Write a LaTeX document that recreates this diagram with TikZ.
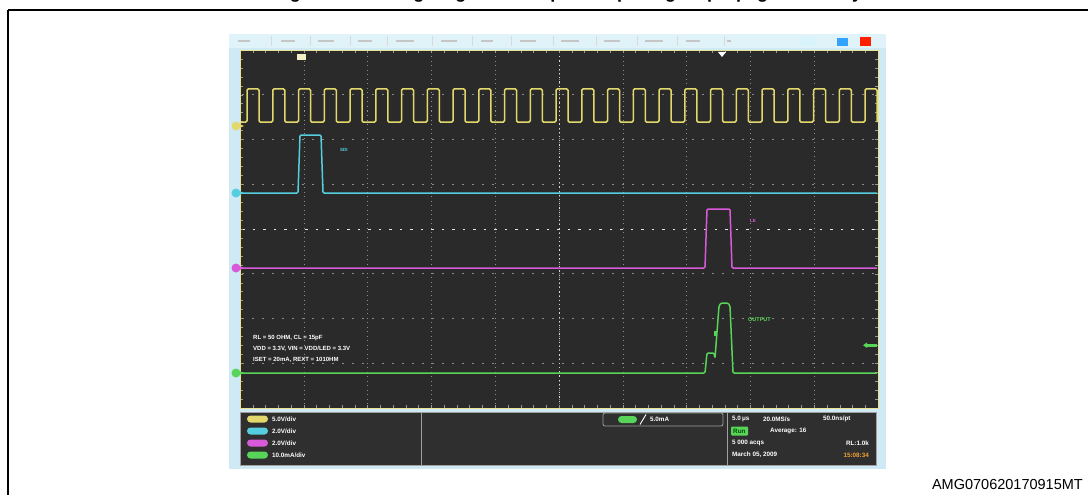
\documentclass[tikz,border=0pt]{standalone}
\usepackage{fontspec}
\setmainfont{Liberation Sans}
\definecolor{scrbg}{HTML}{2A2A2A}
\definecolor{panbg}{HTML}{2F2F2F}
\definecolor{winbl}{HTML}{CFE9F5}
\definecolor{tbar}{HTML}{DFF3F9}
\definecolor{tyel}{HTML}{E2D86C}
\definecolor{tcya}{HTML}{55CFE0}
\definecolor{tmag}{HTML}{D85AD8}
\definecolor{tgrn}{HTML}{58D458}
\definecolor{gridc}{HTML}{8C8C8C}
\definecolor{sepc}{HTML}{A0A0A0}
\definecolor{orng}{HTML}{F0A030}
\tikzset{
  trace/.style={line width=1.5pt, rounded corners=1.2pt},
  minigrid/.style={gridc, line width=0.6pt, dash pattern=on 1pt off 3.5pt},
  hgrid/.style={gridc, line width=0.6pt, dash pattern=on 2pt off 8pt},
  scrtxt/.style={white, font=\bfseries\fontsize{6}{6}\selectfont, inner sep=0pt, anchor=west},
  pantxt/.style={white, font=\bfseries\fontsize{6.3}{6.3}\selectfont, inner sep=0pt, anchor=west},
  legoval/.style={rounded corners=3.5pt},
}
\begin{document}
\begin{tikzpicture}[x=1pt,y=-1pt]
\useasboundingbox (0,0) rectangle (1088,495);
% clipped title (only its lowest part is in the picture)
\begin{scope}
\clip (0,0) rectangle (1088,9);
\node[anchor=base, inner sep=0pt, font=\bfseries\fontsize{18}{18}\selectfont] (title) at (568,-1.3) {Figure 13. Timing diagram example: output signal propagation delay};
\end{scope}
% frame
\draw[line width=2pt] (8,10) -- (1090,10);
\draw[line width=2pt] (8,10) -- (8,497);
% window
\fill[winbl] (229,34) rectangle (886,469);
\fill[tbar] (229,34) rectangle (886,48);
\foreach \sx in {271,310,350,387,432,472,511,553,596,637,677,724}
  \draw[white!70!gray, line width=0.6pt] (\sx,36) -- (\sx,46);
\foreach \bx/\bw in {238/12,281/14,318/16,358/14,396/18,441/16,481/12,520/16,561/18,604/16,645/18,686/14,727/4}
  \draw[gray!45, line width=1.6pt] (\bx,41) -- ++(\bw,0);
\fill[white!85!cyan] (800,37) rectangle (815,46);
\fill[blue!45!cyan!80!white] (837,38) rectangle (848,46);
\fill[red!75!orange] (860,37) rectangle (871,46);
% screen
\fill[scrbg] (240,50) rectangle (878,408);
% grid
\foreach \i in {1,...,9}
  \draw[minigrid] ({240+63.8*\i},52) -- ({240+63.8*\i},406);
\foreach \j in {1,2,3,5,6,7}
  \draw[hgrid] (242,{50+44.75*\j}) -- (876,{50+44.75*\j});
\draw[white!80!gray, line width=0.9pt, dash pattern=on 2.5pt off 8pt] (242,229) -- (876,229);
\draw[white!70!gray, line width=0.9pt, dash pattern=on 1.2pt off 3pt] (559,52) -- (559,406);
% edge ticks
\foreach \t in {0,...,50}
  \draw[gray!80] ({240+12.76*\t},50) -- ++(0,3) ({240+12.76*\t},408) -- ++(0,-3);
\foreach \t in {0,...,40}
  \draw[gray!80] (240,{50+8.95*\t}) -- ++(3,0) (878,{50+8.95*\t}) -- ++(-3,0);
\draw[tyel!75!white, line width=0.9pt] (240,50) rectangle (878,408);
% yellow clock
\draw[trace, tyel] (241,122) \foreach \k in {0,...,24} { -- ({247+25.75*\k},122) -- ({247+25.75*\k},89) -- ({259+25.75*\k},89) -- ({259+25.75*\k},122) } -- (877,122);
% cyan SDI
\draw[trace, tcya] (241,193) -- (298,193) -- (300,135) -- (321,135) -- (323,193) -- (877,193);
% magenta LE
\draw[trace, tmag] (241,268) -- (705,268) -- (707,209) -- (730,209) -- (732,268) -- (877,268);
% green output
\draw[trace, tgrn] (241,373) -- (705,373) -- (707,353) -- (714,353) -- (715,358) -- (719,306) -- (721,303) -- (728,303) -- (730,306) -- (733,373) -- (877,373);
% channel markers
\foreach \my/\mc in {126/tyel,193/tcya,268/tmag,373/tgrn} {
  \fill[\mc] (236,\my) circle (4.5);
  \fill[\mc] (236,{\my-3.5}) -- (244,\my) -- (236,{\my+3.5}) -- cycle;
}
% small markers
\fill[tyel!40!white] (297,54) rectangle (306,60);
\fill[white] (718,52) -- (726,52) -- (722,57) -- cycle;
\fill[tgrn] (714,331) rectangle (717,336);
\fill[tgrn] (866,344) rectangle (877,346.5);
\fill[tgrn] (863,345.2) -- (867,342.5) -- (867,348) -- cycle;
% trace labels
\node[scrtxt, tcya, font=\bfseries\fontsize{4.5}{4.5}\selectfont] (lsdi) at (340,150) {SDI};
\node[scrtxt, tmag, font=\bfseries\fontsize{4.5}{4.5}\selectfont] (lle) at (750,221) {LE};
\node[scrtxt, tgrn, font=\bfseries\fontsize{5.5}{5.5}\selectfont] (lout) at (748,320) {OUTPUT};
% conditions
\node[scrtxt] (c1) at (253,338) {RL = 50 OHM, CL = 15pF};
\node[scrtxt] (c2) at (253,349) {VDD = 3.3V, VIN = VDD/LED = 3.3V};
\node[scrtxt] (c3) at (253,360) {ISET = 20mA, REXT = 1010HM};
% bottom panel
\fill[panbg] (240,412) rectangle (876,465);
\draw[sepc, line width=0.8pt] (240,412) rectangle (876,465);
\draw[sepc, line width=1pt] (421,412) -- (421,465);
\draw[sepc, line width=1pt] (727,412) -- (727,465);
\foreach \ly/\lc/\lt in {419/tyel/{5.0V/div},431/tcya/{2.0V/div},443/tmag/{2.0V/div},455/tgrn/{10.0mA/div}} {
  \fill[\lc, legoval] (247,{\ly-3.5}) rectangle (268,{\ly+3.5});
  \node[pantxt] at (272,\ly) {\lt};
}
\draw[sepc, rounded corners=2pt, line width=0.8pt] (603,413) rectangle (723,426);
\fill[tgrn, legoval] (618,416) rectangle (637,423);
\draw[white, line width=0.9pt] (640,424.5) -- (646,414.5);
\node[pantxt] (trig) at (650,419.5) {5.0mA};
\node[pantxt] (r1a) at (732,419) {5.0\,μs};
\node[pantxt] (r1b) at (763,419) {20.0MS/s};
\node[pantxt] (r1c) at (823,419) {50.0ns/pt};
\fill[tgrn, rounded corners=1pt] (731,426.5) rectangle (748,435.5);
\node[pantxt, text=black!70!green] (run) at (733,431) {Run};
\node[pantxt] (r2b) at (770,431) {Average: 16};
\node[pantxt] (r3a) at (732,443) {5 000 acqs};
\node[pantxt, anchor=east] (r3b) at (869,443) {RL:1.0k};
\node[pantxt] (r4a) at (732,455) {March 05, 2009};
\node[pantxt, anchor=east, orng] (r4b) at (869,455) {15:08:34};
% code
\node[anchor=base east, inner sep=0pt, font=\fontsize{14.5}{14.5}\selectfont] (code) at (1083,489) {AMG070620170915MT};
\end{tikzpicture}
\end{document}
